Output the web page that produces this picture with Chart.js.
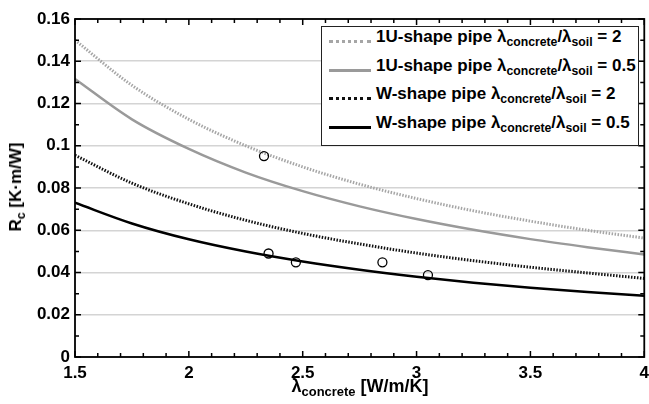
<!DOCTYPE html>
<html>
<head>
<meta charset="utf-8">
<script src="https://cdn.jsdelivr.net/npm/chart.js@4.4.0/dist/chart.umd.min.js"></script>
<style>
    html, body { margin: 0; padding: 0; background: #fff; }
    #wrap { position: relative; width: 649px; height: 404px; overflow: hidden;
            font-family: 'Liberation Sans', Arial, sans-serif; font-weight: bold; color: #000; }
    #chart { position: absolute; left: 0; top: 0; }
    .ytitle { position: absolute; left: 16px; top: 187px; font-size: 17px; white-space: nowrap;
              transform: translate(-50%, -50%) rotate(-90deg); }
    .xtitle { position: absolute; left: 360px; top: 386px; font-size: 18px; white-space: nowrap;
              transform: translate(-50%, -50%); }
    sub { font-size: 72%; vertical-align: -0.35em; line-height: 0; }
    .legend { position: absolute; left: 321px; top: 26px; width: 316px; height: 118px;
              border: 1.5px solid #222; background: #fff; font-size: 17px; }
    .row { position: absolute; left: 0; height: 20px; line-height: 20px; white-space: nowrap; }
    .sample { position: absolute; left: 7px; top: 9px; width: 42px; height: 0; }
    .label { position: absolute; left: 54px; top: -4px; }
</style>
</head>
<body>
<div id="wrap">
    <!-- canvas a bit wider than the page so the "4" label is cut at the edge like the original -->
    <canvas id="chart" width="655" height="404"></canvas>
    <div class="ytitle">R<sub>c</sub> [K·m/W]</div>
    <div class="xtitle">λ<sub>concrete</sub> [W/m/K]</div>
    <div class="legend" id="legend"></div>
</div>
<script>
// thermal conductivity of concrete, W/m/K
const lambdaValues = [1.5, 1.75, 2, 2.25, 2.5, 2.75, 3, 3.25, 3.5, 3.75, 4];

// Rc curves, K·m/W
const u1Ratio2  = [0.1500, 0.1286, 0.1125, 0.1000, 0.0900, 0.0818, 0.0750, 0.0692, 0.0643, 0.0600, 0.0563];
const u1Ratio05 = [0.1316, 0.1125, 0.0985, 0.0873, 0.0785, 0.0713, 0.0653, 0.0602, 0.0558, 0.0520, 0.0485];
const wRatio2   = [0.0955, 0.0823, 0.0725, 0.0647, 0.0585, 0.0535, 0.0492, 0.0456, 0.0425, 0.0398, 0.0372];
const wRatio05  = [0.0730, 0.0632, 0.0557, 0.0499, 0.0452, 0.0413, 0.0380, 0.0352, 0.0328, 0.0308, 0.0290];

// measured points
const measLambda = [2.33, 2.35, 2.47, 2.85, 3.05];
const measRc     = [0.0951, 0.0490, 0.0448, 0.0448, 0.0388];

const xTicks = [1.5, 2, 2.5, 3, 3.5, 4];
const yTicks = [0, 0.02, 0.04, 0.06, 0.08, 0.1, 0.12, 0.14, 0.16];
const yTickLabels = ['0', '0.02', '0.04', '0.06', '0.08', '0.1', '0.12', '0.14', '0.16'];

const seriesNames = ['1U-shape pipe', '1U-shape pipe', 'W-shape pipe', 'W-shape pipe'];
const seriesRatios = ['2', '0.5', '2', '0.5'];

const lineStyles = [
    { color: '#a6a6a6', width: 3, dash: [1.5, 1.5], css: '3px dotted #a6a6a6' },
    { color: '#9a9a9a', width: 2.5, dash: [], css: '3px solid #9a9a9a' },
    { color: '#111', width: 3, dash: [1.5, 1.5], css: '3px dotted #111' },
    { color: '#000', width: 2.5, dash: [], css: '3px solid #000' }
];

function pts(ys) {
    return lambdaValues.map((x, i) => ({ x: x, y: ys[i] }));
}

const curves = [u1Ratio2, u1Ratio05, wRatio2, wRatio05];

const datasets = curves.map((ys, i) => ({
    type: 'line',
    data: pts(ys),
    borderColor: lineStyles[i].color,
    borderWidth: lineStyles[i].width,
    borderDash: lineStyles[i].dash,
    pointRadius: 0,
    cubicInterpolationMode: 'monotone',
    fill: false,
    order: 1
}));

datasets.push({
    type: 'scatter',
    data: measLambda.map((x, i) => ({ x: x, y: measRc[i] })),
    pointStyle: 'circle',
    pointRadius: 4.5,
    borderColor: '#000',
    borderWidth: 1.3,
    backgroundColor: 'rgba(0,0,0,0)',
    order: 0
});

// box + inward ticks on all four sides
const framePlugin = {
    id: 'frame',
    afterDraw(chart) {
        const { ctx, chartArea: a, scales } = chart;
        const x = scales.x, y = scales.y;
        ctx.save();
        ctx.strokeStyle = '#000';
        ctx.lineWidth = 1.5;
        ctx.beginPath();
        for (let v = 1.5; v <= 4.0001; v += 0.1) {
            const px = x.getPixelForValue(v);
            const major = xTicks.some(t => Math.abs(t - v) < 1e-6);
            const len = major ? 6 : 4;
            ctx.moveTo(px, a.bottom); ctx.lineTo(px, a.bottom - len);
            ctx.moveTo(px, a.top); ctx.lineTo(px, a.top + len);
        }
        for (let v = 0; v <= 0.16001; v += 0.01) {
            const py = y.getPixelForValue(v);
            const major = yTicks.some(t => Math.abs(t - v) < 1e-6);
            const len = major ? 6 : 4;
            ctx.moveTo(a.left, py); ctx.lineTo(a.left + len, py);
            ctx.moveTo(a.right, py); ctx.lineTo(a.right - len, py);
        }
        ctx.stroke();
        ctx.lineWidth = 1.8;
        ctx.strokeRect(a.left, a.top, a.right - a.left, a.bottom - a.top);
        ctx.restore();
    }
};

const tickFont = { family: "'Liberation Sans', Arial, sans-serif", size: 17, weight: 'bold' };

new Chart(document.getElementById('chart'), {
    type: 'line',
    data: { datasets: datasets },
    options: {
        responsive: false,
        animation: false,
        layout: { padding: { left: 0, right: 0, top: 19, bottom: 0 } },
        plugins: { legend: { display: false }, tooltip: { enabled: false } },
        scales: {
            x: {
                type: 'linear',
                min: 1.5,
                max: 4,
                afterBuildTicks: s => { s.ticks = xTicks.map(v => ({ value: v })); },
                afterFit: s => { s.height = 47; },
                grid: { display: false, drawTicks: false },
                border: { display: false },
                ticks: { font: tickFont, color: '#000', padding: 6, maxRotation: 0,
                         callback: v => String(v) }
            },
            y: {
                type: 'linear',
                min: 0,
                max: 0.16,
                afterBuildTicks: s => { s.ticks = yTicks.map(v => ({ value: v })); },
                afterFit: s => { s.width = 75; },
                grid: { color: '#d4d4d4', lineWidth: 1.5, drawTicks: false },
                border: { display: false },
                ticks: { font: tickFont, color: '#000', padding: 5,
                         callback: (v, i) => yTickLabels[i] }
            }
        }
    },
    plugins: [framePlugin]
});

// legend with subscripts
const legend = document.getElementById('legend');
seriesNames.forEach((name, i) => {
    const row = document.createElement('div');
    row.className = 'row';
    row.style.top = (4 + i * 28.7) + 'px';
    row.innerHTML = '<span class="sample" style="border-top:' + lineStyles[i].css + '"></span>' +
        '<span class="label">' + name + ' λ<sub>concrete</sub>/λ<sub>soil</sub> = ' + seriesRatios[i] + '</span>';
    legend.appendChild(row);
});
</script>
</body>
</html>
